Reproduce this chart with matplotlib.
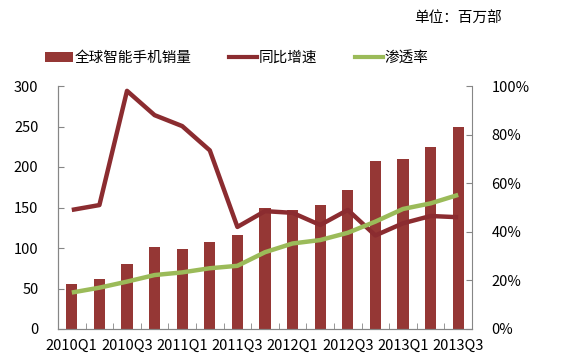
import numpy as np
import matplotlib.pyplot as plt
from matplotlib.patches import Patch
from matplotlib.lines import Line2D

plt.rcParams['font.family'] = ['Noto Sans CJK SC', 'DejaVu Sans']

quarters = ["2010Q1", "2010Q2", "2010Q3", "2010Q4",
            "2011Q1", "2011Q2", "2011Q3", "2011Q4",
            "2012Q1", "2012Q2", "2012Q3", "2012Q4",
            "2013Q1", "2013Q2", "2013Q3"]
sales = [55, 62, 80, 101, 99, 108, 116, 150, 147, 153, 172, 208, 210, 225, 250]
growth = [0.49, 0.51, 0.98, 0.88, 0.835, 0.735, 0.42, 0.485, 0.478, 0.428,
          0.49, 0.385, 0.435, 0.465, 0.46]
penetration = [0.15, 0.17, 0.195, 0.222, 0.233, 0.25, 0.26, 0.316, 0.352,
               0.366, 0.396, 0.442, 0.494, 0.517, 0.552]

BAR = "#953735"
LINE = "#8b2c30"
GREEN = "#9bbb59"
AXC = "#868686"
FS = 10.5

fig = plt.figure(figsize=(5.68, 3.61), dpi=100)
ax = fig.add_axes([58 / 568, 32 / 361, 414 / 568, 243 / 361])
ax2 = ax.twinx()

x = np.arange(len(quarters))
ax.bar(x, sales, width=0.4, color=BAR, zorder=2)
ax2.plot(x, growth, color=LINE, lw=3.2, solid_capstyle="butt", zorder=3)
ax2.plot(x, penetration, color=GREEN, lw=3.2, solid_capstyle="butt", zorder=3)

ax.set_xlim(-0.5, len(quarters) - 0.5)
ax.set_ylim(0, 300)
ax2.set_ylim(0, 1)
ax.set_yticks(range(0, 301, 50))
ax2.set_yticks(np.arange(0, 1.01, 0.2))
ax2.set_yticklabels([f"{int(round(v * 100))}%" for v in np.arange(0, 1.01, 0.2)])

ax.set_xticks(x[::2])
ax.set_xticklabels(quarters[::2])
ax.set_xticks(np.arange(0.5, len(quarters) - 0.5, 1), minor=True)
ax.tick_params(axis="x", which="major", length=0, pad=7, labelsize=FS, colors="black")
ax.tick_params(axis="x", which="minor", length=4, direction="in", color=AXC)
ax.tick_params(axis="y", length=4, direction="in", color=AXC, labelsize=FS, pad=14)
ax2.tick_params(axis="y", length=4, direction="in", color=AXC, labelsize=FS, pad=14)

for a in (ax, ax2):
    a.spines["top"].set_visible(False)
    for s in ("left", "right", "bottom"):
        a.spines[s].set_color(AXC)
ax.spines["right"].set_visible(False)

handles = [Patch(facecolor=BAR),
           Line2D([0], [0], color=LINE, lw=3),
           Line2D([0], [0], color=GREEN, lw=3)]
labels = ["全球智能手机销量", "同比增速", "渗透率"]
fig.legend(handles, labels, loc="center left", bbox_to_anchor=(38 / 568, 1 - 58 / 361),
           ncol=3, frameon=False, fontsize=FS, handlelength=1.9,
           handletextpad=0.1, columnspacing=2.6, borderpad=0)

fig.text(502 / 568, 1 - 18 / 361, "单位：百万部", ha="right", va="center", fontsize=FS)

fig.savefig("out.png", dpi=100)
